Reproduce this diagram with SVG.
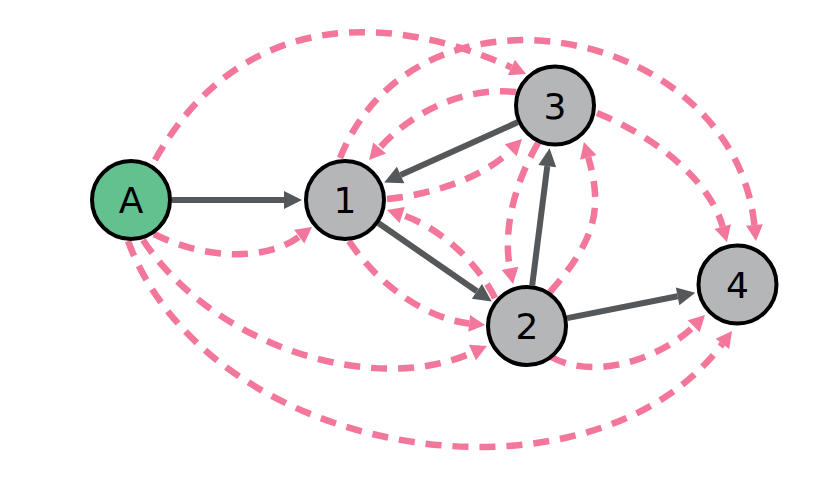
<svg xmlns="http://www.w3.org/2000/svg" width="832" height="484" viewBox="0 0 832 484">
<style>
.pe{fill:none;stroke:#f3779a;stroke-width:6.5;stroke-dasharray:16 11;marker-end:url(#pa)}
.ge{fill:none;stroke:#54585b;stroke-width:6;marker-end:url(#ga)}
.node circle{stroke:#000;stroke-width:4}
.node text{font-family:"DejaVu Sans",sans-serif;font-size:36px;fill:#000;text-anchor:middle}
</style>
<defs>
<marker id="pa" markerUnits="userSpaceOnUse" viewBox="0 -8.5 17 17" markerWidth="17" markerHeight="17" refX="0" refY="0" orient="auto" overflow="visible">
<path d="M0,-8.5 L16,0 L0,8.5 z" fill="#f3779a"/>
</marker>
<marker id="ga" markerUnits="userSpaceOnUse" viewBox="0 -9 19 18" markerWidth="19" markerHeight="18" refX="0" refY="0" orient="auto" overflow="visible">
<path d="M0,-9 L18,0 L0,9 z" fill="#54585b"/>
</marker>
</defs>
<rect width="832" height="484" fill="#fff"/>
<g id="connectors">
<path class="ge" d="M172,200 L284,200"/>
<path class="ge" d="M517.6,122.3 L400.6,175"/>
<path class="ge" d="M378.7,223.3 L476.9,291.3"/>
<path class="ge" d="M532.2,285.3 L547.3,166.1"/>
<path class="ge" d="M567.2,318.1 L677.6,296.3"/>
<path class="pe" d="M155,160 C233,21 371,4 511.4,67.4"/>
<path class="pe" d="M340,158 C418,-37 734,27 754.4,225"/>
<path class="pe" d="M597,113 C656,137 710,181 722.7,226.6"/>
<path class="pe" d="M516,92 C459,86 406.6,117 379.6,148"/>
<path class="pe" d="M387,199 C437.6,194 486,175 510.7,150.3"/>
<path class="pe" d="M495,298 C473.3,255 432.8,225 402.2,215"/>
<path class="pe" d="M349,241 C379.8,287.5 429.6,319.4 469.2,323.4"/>
<path class="pe" d="M538,143 C510.5,190.8 503.7,236 510,268.3"/>
<path class="pe" d="M550,292 C596,239.5 603,209 588.3,157.4"/>
<path class="pe" d="M154,234 C204.7,259.7 266.4,261.2 299.2,236.6"/>
<path class="pe" d="M143,240 C211.8,345 373.3,397.3 472.4,352.6"/>
<path class="pe" d="M128,241 C210,462 591,519 722.4,343.8"/>
<path class="pe" d="M551,357 C599.4,382.9 666,354 693.7,326.3"/>
</g>
<g id="node-A" class="node"><circle cx="131" cy="200" r="39" fill="#63c08f"/><text x="131" y="213">A</text></g>
<g id="node-1" class="node"><circle cx="345" cy="200" r="39" fill="#b5b6b8"/><text x="345" y="213">1</text></g>
<g id="node-3" class="node"><circle cx="555" cy="105.5" r="39" fill="#b5b6b8"/><text x="555" y="118.5">3</text></g>
<g id="node-2" class="node"><circle cx="527" cy="326" r="39" fill="#b5b6b8"/><text x="527" y="339">2</text></g>
<g id="node-4" class="node"><circle cx="737.5" cy="284.5" r="39" fill="#b5b6b8"/><text x="737.5" y="297.5">4</text></g>
</svg>
